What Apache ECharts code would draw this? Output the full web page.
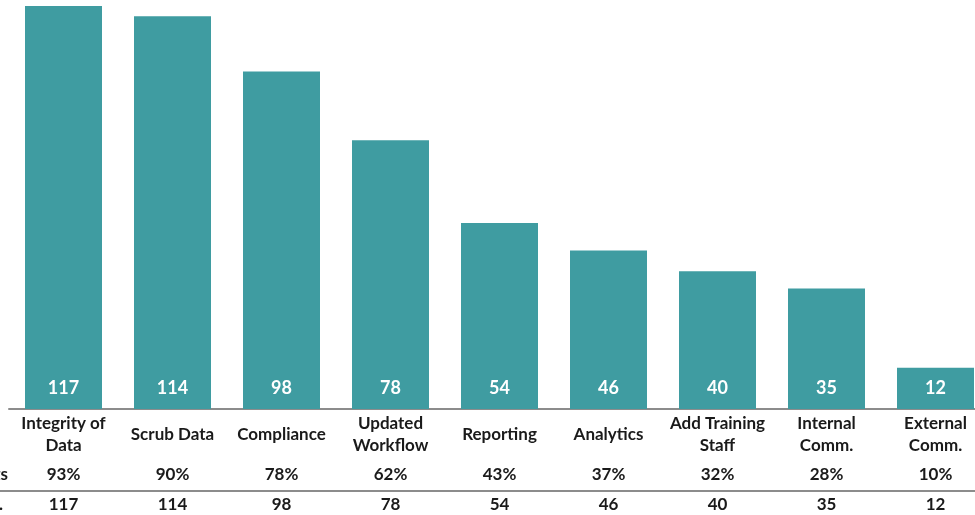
<!DOCTYPE html>
<html>
<head>
<meta charset="utf-8">
<script src="https://cdn.jsdelivr.net/npm/echarts@6/dist/echarts.min.js"></script>
<style>
  html, body { margin: 0; padding: 0; background: #fff; overflow: hidden; }
  #chart { width: 990px; height: 515px; }
</style>
</head>
<body>
<div id="chart"></div>
<script>
  var categories = ['Integrity of\nData', 'Scrub Data', 'Compliance', 'Updated\nWorkflow', 'Reporting',
    'Analytics', 'Add Training\nStaff', 'Internal\nComm.', 'External\nComm.'];
  var counts = [117, 114, 98, 78, 54, 46, 40, 35, 12];
  var percents = ['93%', '90%', '78%', '62%', '43%', '37%', '32%', '28%', '10%'];

  var font = 'Lato, "Open Sans", sans-serif';
  var txt = '#1a1a1a';

  var myChart = echarts.init(document.getElementById('chart'));
  myChart.setOption({
    animation: false,
    grid: { left: 9, top: 6, right: 0, height: 403, containLabel: false },
    xAxis: [
      {
        type: 'category',
        data: categories,
        axisLine: { lineStyle: { color: '#8c8c8c', width: 2 } },
        axisTick: { show: false },
        axisLabel: {
          interval: 0, margin: 26, verticalAlign: 'middle', lineHeight: 22,
          color: txt, fontFamily: font, fontWeight: 'bold', fontSize: 17
        }
      },
      {
        type: 'category',
        position: 'bottom',
        data: percents,
        axisLine: { show: false },
        axisTick: { show: false },
        axisLabel: {
          interval: 0, margin: 66, verticalAlign: 'middle',
          color: txt, fontFamily: font, fontWeight: 'bold', fontSize: 17
        }
      },
      {
        type: 'category',
        position: 'bottom',
        data: counts,
        axisLine: { show: false },
        axisTick: { show: false },
        axisLabel: {
          interval: 0, margin: 96, verticalAlign: 'middle',
          color: txt, fontFamily: font, fontWeight: 'bold', fontSize: 17
        }
      }
    ],
    yAxis: {
      type: 'value', min: 0, max: 117,
      show: false, splitLine: { show: false }
    },
    graphic: [
      { type: 'line', shape: { x1: 0, y1: 491, x2: 990, y2: 491 }, style: { stroke: '#8c8c8c', lineWidth: 2 } },
      { type: 'text', x: 8, y: 475, style: { text: 'Respondents', align: 'right', verticalAlign: 'middle',
        fill: txt, font: 'bold 17px ' + font } },
      { type: 'text', x: 3, y: 505, style: { text: 'No.', align: 'right', verticalAlign: 'middle',
        fill: txt, font: 'bold 17px ' + font } }
    ],
    series: [{
      type: 'bar',
      data: counts,
      barWidth: 77,
      itemStyle: { color: '#3f9ca1' },
      label: {
        show: true, position: 'insideBottom', distance: 12,
        color: '#fff', fontFamily: font, fontWeight: 'bold', fontSize: 18
      }
    }]
  });
</script>
</body>
</html>
